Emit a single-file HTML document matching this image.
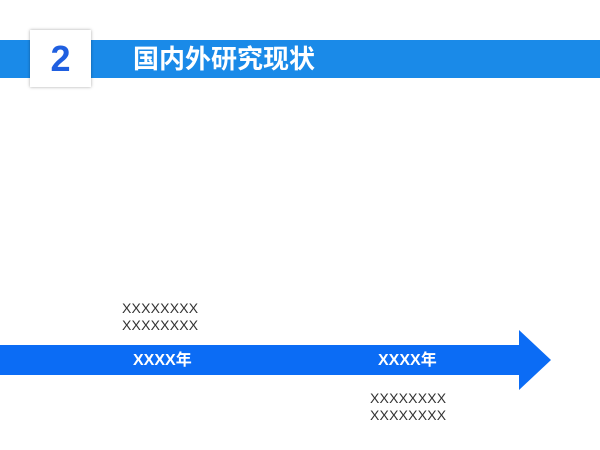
<!DOCTYPE html>
<html><head><meta charset="utf-8"><style>
body{margin:0;width:600px;height:450px;background:#fff;position:relative;overflow:hidden;font-family:"Liberation Sans","Noto Sans CJK SC",sans-serif}
.banner{position:absolute;left:0;top:40px;width:600px;height:38px;background:#1a8ae8}
.box{position:absolute;left:30px;top:30px;width:61px;height:57px;background:#fff;box-shadow:0 0 3px rgba(0,0,0,.35);color:#1f5fe0;font-weight:bold;font-size:36px;text-align:center;line-height:57px}
.title{position:absolute;left:133px;top:42px;color:#fff;font-size:26px;font-weight:bold;line-height:34px}
.t{position:absolute;color:#333;font-size:14px;line-height:17px;letter-spacing:0.2px}
.y{position:absolute;color:#fff;font-weight:bold;font-size:16px;line-height:20px}
</style></head><body>
<div class="banner"></div>
<div class="box">2</div>
<div class="title">国内外研究现状</div>
<svg style="position:absolute;left:0;top:0" width="600" height="450"><polygon points="0,345 519,345 519,330 551,360 519,390 519,375 0,375" fill="#0b6cf5"/></svg>
<div class="t" style="left:122px;top:300px">XXXXXXXX<br>XXXXXXXX</div>
<div class="t" style="left:370px;top:390px">XXXXXXXX<br>XXXXXXXX</div>
<div class="y" style="left:133px;top:351px">XXXX年</div>
<div class="y" style="left:378px;top:351px">XXXX年</div>
</body></html>
